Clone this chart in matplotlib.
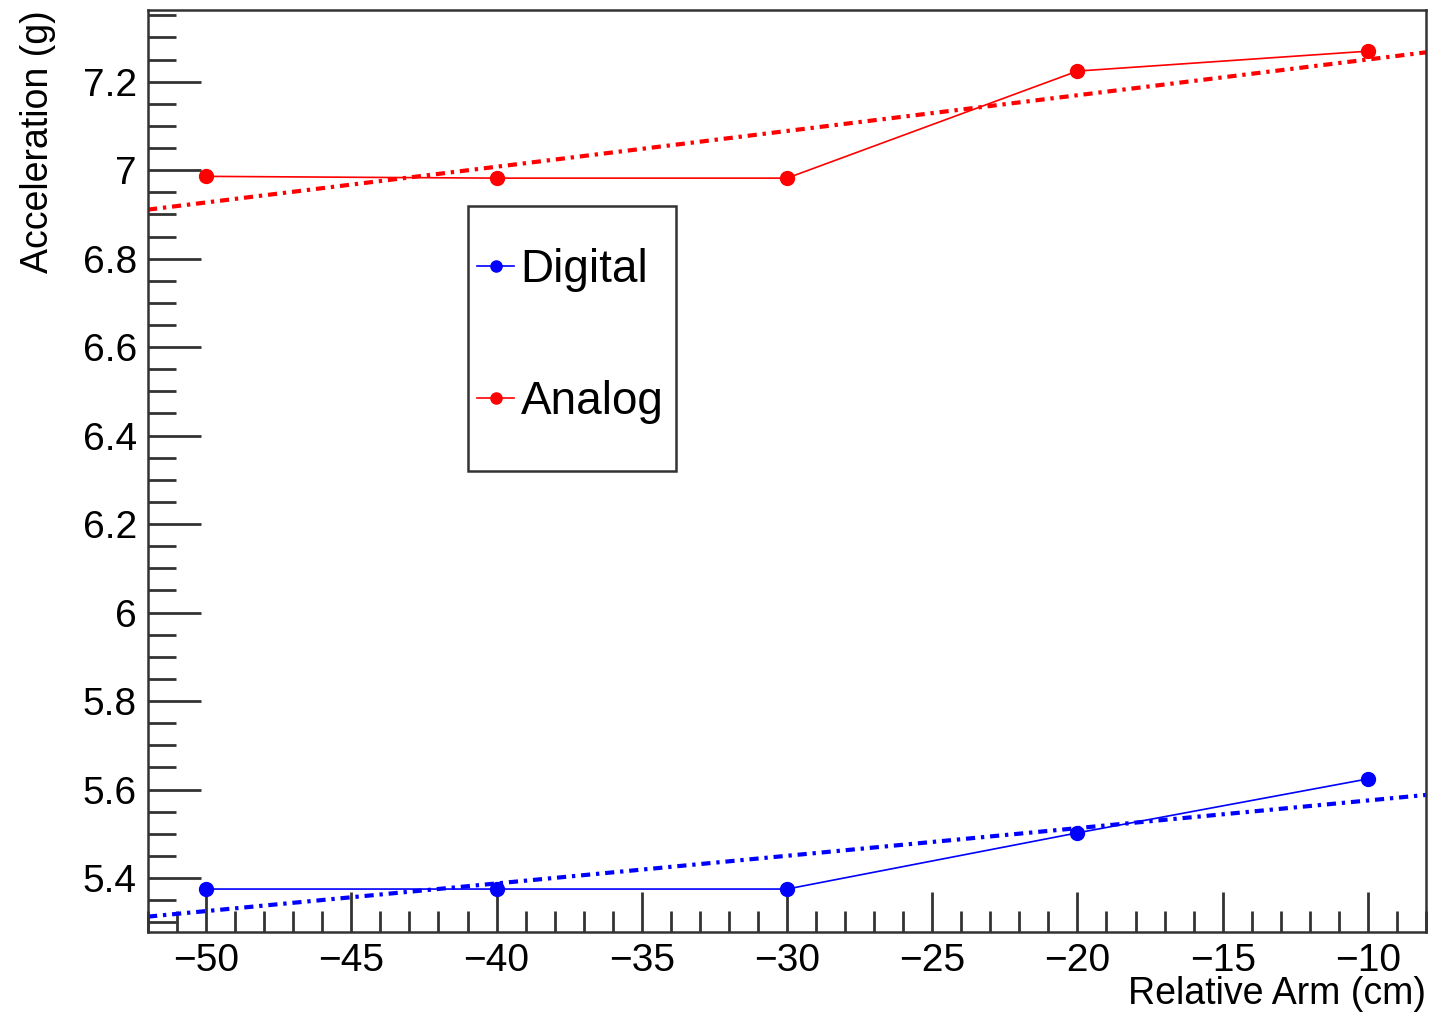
import numpy as np
import matplotlib.pyplot as plt
from matplotlib.patches import Rectangle
from matplotlib.ticker import MultipleLocator

plt.rcParams['font.family'] = ['Liberation Sans', 'DejaVu Sans']

arm = [-50, -40, -30, -20, -10]
digital = [5.375, 5.375, 5.375, 5.502, 5.624]
analog = [6.986, 6.982, 6.982, 7.224, 7.269]

fig = plt.figure(figsize=(14.33, 10.13), dpi=100)
ax = fig.add_axes([0.1033, 0.08, 0.8918, 0.9101])

xlo, xhi = -52, -8
ax.set_xlim(xlo, xhi)
ax.set_ylim(5.278, 7.362)

xfit = np.array([xlo, xhi])
for y, col in [(digital, 'blue'), (analog, 'red')]:
    ax.plot(arm, y, color=col, lw=1.2, marker='o', ms=10)
    # straight-line fit over the full x range
    p = np.polyfit(arm, y, 1)
    ax.plot(xfit, np.polyval(p, xfit), color=col, lw=3,
            linestyle=(0, (2.2, 1.4, 0.8, 1.4)))

ax.xaxis.set_major_locator(MultipleLocator(5))
ax.xaxis.set_minor_locator(MultipleLocator(1))
ax.yaxis.set_major_locator(MultipleLocator(0.2))
ax.yaxis.set_minor_locator(MultipleLocator(0.05))
ax.tick_params(which='both', direction='in', labelsize=28, width=2, color='#333333')
ax.tick_params(axis='y', which='major', length=38, pad=8)
ax.tick_params(axis='y', which='minor', length=20)
ax.tick_params(axis='x', which='major', length=29, pad=8)
ax.tick_params(axis='x', which='minor', length=15)
ax.yaxis.set_major_formatter(plt.FuncFormatter(lambda v, _: f'{v:g}'))

for s in ax.spines.values():
    s.set_linewidth(1.8)
    s.set_color('#333333')

ax.set_xlabel('Relative Arm (cm)', fontsize=27, loc='right')
ax.set_ylabel('Acceleration (g)', fontsize=27, loc='top')
ax.xaxis.set_label_coords(1.0, -0.048)
ax.yaxis.set_label_coords(-0.072, 1.0)

# legend box
ax.add_patch(Rectangle((0.2504, 0.5), 0.1625, 0.287, transform=ax.transAxes,
                       fill=False, edgecolor='#333333', lw=1.8, zorder=5))
hd = ax.plot([], [], color='blue', lw=1.2, marker='o', ms=8)[0]
ha = ax.plot([], [], color='red', lw=1.2, marker='o', ms=8)[0]
ax.legend([hd, ha], ['Digital', 'Analog'], loc='upper left',
          bbox_to_anchor=(0.2504, 0.752), frameon=False, fontsize=33,
          handlelength=0.8, handletextpad=0.15, labelspacing=1.93,
          borderpad=0.2, borderaxespad=0, bbox_transform=ax.transAxes)

fig.savefig('out.png', dpi=100)
